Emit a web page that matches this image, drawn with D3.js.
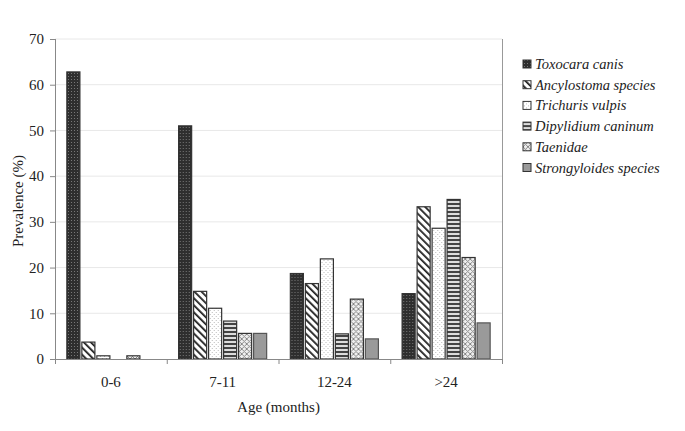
<!DOCTYPE html>
<html>
<head>
<meta charset="utf-8">
<script src="https://cdn.jsdelivr.net/npm/d3@7"></script>
<style>
  body { margin: 0; background: #fff; }
</style>
</head>
<body>
<div id="chart"></div>
<script>
const ageGroups = ["0-6", "7-11", "12-24", ">24"];
const species = ["Toxocara canis", "Ancylostoma species", "Trichuris vulpis",
  "Dipylidium caninum", "Taenidae", "Strongyloides species"];
// prevalence (%) per species, one value per age group
const toxocara = [62.8, 51.0, 18.7, 14.3];
const ancylostoma = [3.7, 14.8, 16.5, 33.3];
const trichuris = [0.7, 11.1, 21.9, 28.6];
const dipylidium = [0, 8.3, 5.5, 34.9];
const taenidae = [0.7, 5.6, 13.1, 22.2];
const strongyloides = [0, 5.6, 4.4, 7.9];
const yTicks = [0, 10, 20, 30, 40, 50, 60, 70];

const seriesValues = [toxocara, ancylostoma, trichuris, dipylidium, taenidae, strongyloides];
const data = ageGroups.map((g, i) => ({
  group: g,
  values: species.map((s, j) => ({ key: s, idx: j, value: seriesValues[j][i] }))
}));

const FONT = "'Liberation Serif', 'Times New Roman', 'DejaVu Serif', serif";
const W = 685, H = 431;
const margin = { top: 39, right: 183, bottom: 72, left: 55 };
const width = W - margin.left - margin.right;
const height = H - margin.top - margin.bottom;

const svg = d3.select("#chart").append("svg")
  .attr("width", W).attr("height", H)
  .style("font-family", FONT);

// patterns
const defs = svg.append("defs");
const p0 = defs.append("pattern").attr("id", "pat0").attr("patternUnits", "userSpaceOnUse")
  .attr("width", 3).attr("height", 3);
p0.append("rect").attr("width", 3).attr("height", 3).attr("fill", "#2e2e2e");
p0.append("rect").attr("x", 1).attr("y", 1).attr("width", 1).attr("height", 1).attr("fill", "#777");

const p1 = defs.append("pattern").attr("id", "pat1").attr("patternUnits", "userSpaceOnUse")
  .attr("width", 5).attr("height", 5).attr("patternTransform", "rotate(-45)");
p1.append("rect").attr("width", 5).attr("height", 5).attr("fill", "#fff");
p1.append("rect").attr("width", 1.8).attr("height", 5).attr("fill", "#222");

const p2 = defs.append("pattern").attr("id", "pat2").attr("patternUnits", "userSpaceOnUse")
  .attr("width", 4).attr("height", 4);
p2.append("rect").attr("width", 4).attr("height", 4).attr("fill", "#fff");
p2.append("rect").attr("x", 1).attr("y", 1).attr("width", 1).attr("height", 1).attr("fill", "#bbb");
p2.append("rect").attr("x", 3).attr("y", 3).attr("width", 1).attr("height", 1).attr("fill", "#bbb");

const p3 = defs.append("pattern").attr("id", "pat3").attr("patternUnits", "userSpaceOnUse")
  .attr("width", 4).attr("height", 4);
p3.append("rect").attr("width", 4).attr("height", 4).attr("fill", "#ddd");
p3.append("rect").attr("y", 0).attr("width", 4).attr("height", 2).attr("fill", "#444");

const p4 = defs.append("pattern").attr("id", "pat4").attr("patternUnits", "userSpaceOnUse")
  .attr("width", 5).attr("height", 5);
p4.append("rect").attr("width", 5).attr("height", 5).attr("fill", "#eee");
p4.append("path").attr("d", "M0,0L5,5M5,0L0,5").attr("stroke", "#888").attr("stroke-width", 1);

const fills = ["url(#pat0)", "url(#pat1)", "url(#pat2)", "url(#pat3)", "url(#pat4)", "#9a9a9a"];

const g = svg.append("g").attr("transform", `translate(${margin.left},${margin.top})`);

const x0 = d3.scaleBand().domain(ageGroups).range([0, width]).padding(0);
const x1 = d3.scaleBand().domain(species).range([0, x0.bandwidth()])
  .paddingInner(0.13).paddingOuter(0.79);
const y = d3.scaleLinear().domain([0, 70]).range([height, 0]);

// gridlines
g.append("g").selectAll("line").data(yTicks.slice(1)).enter().append("line")
  .attr("x1", 0).attr("x2", width)
  .attr("y1", d => y(d)).attr("y2", d => y(d))
  .attr("stroke", "#e8e8e8").attr("stroke-width", 1);

// right border of plot area
g.append("line").attr("x1", width + 0.5).attr("x2", width + 0.5)
  .attr("y1", 0).attr("y2", height).attr("stroke", "#999");

// bars
const groups = g.selectAll(".grp").data(data).enter().append("g")
  .attr("class", "grp")
  .attr("transform", d => `translate(${x0(d.group)},0)`);
groups.selectAll("rect").data(d => d.values.filter(v => v.value > 0)).enter().append("rect")
  .attr("x", d => x1(d.key))
  .attr("y", d => y(d.value))
  .attr("width", x1.bandwidth())
  .attr("height", d => height - y(d.value))
  .attr("fill", d => fills[d.idx])
  .attr("stroke", d => d.idx === 5 ? "#555" : "#333")
  .attr("stroke-width", 1.2);

// y axis
const yAxis = g.append("g")
  .call(d3.axisLeft(y).tickValues(yTicks).tickSize(5).tickPadding(6))
  .attr("font-family", FONT);
yAxis.selectAll("text").style("font-size", "15px").style("font-family", FONT).attr("fill", "#222");
yAxis.selectAll("line, path").attr("stroke", "#888");
yAxis.select(".domain").attr("d", `M0.5,0V${height}`);

// x axis with ticks at group boundaries
const xAxis = g.append("g").attr("transform", `translate(0,${height})`);
xAxis.append("line").attr("x1", 0).attr("x2", width).attr("y1", 0.5).attr("y2", 0.5)
  .attr("stroke", "#888");
const boundaries = ageGroups.map(d => x0(d)).concat([width]);
xAxis.selectAll(".btick").data(boundaries).enter().append("line")
  .attr("x1", d => d + 0.5).attr("x2", d => d + 0.5)
  .attr("y1", 0).attr("y2", 5).attr("stroke", "#888");
xAxis.selectAll(".lbl").data(ageGroups).enter().append("text")
  .attr("x", d => x0(d) + x0.bandwidth() / 2)
  .attr("y", 28)
  .attr("text-anchor", "middle")
  .style("font-size", "15px").style("font-family", FONT).attr("fill", "#222")
  .text(d => d);

// axis titles
svg.append("text")
  .attr("x", margin.left + width / 2).attr("y", 412)
  .attr("text-anchor", "middle").style("font-size", "15px").style("font-family", FONT)
  .attr("fill", "#222")
  .text("Age (months)");
svg.append("text")
  .attr("transform", `translate(23,${margin.top + height / 2 + 2}) rotate(-90)`)
  .attr("text-anchor", "middle").style("font-size", "15px").style("font-family", FONT)
  .attr("fill", "#222")
  .text("Prevalence (%)");

// legend
const legend = svg.append("g").attr("transform", "translate(523,59)");
const items = legend.selectAll(".item").data(species).enter().append("g")
  .attr("transform", (d, i) => `translate(0,${i * 20.7})`);
items.append("rect").attr("width", 8).attr("height", 8).attr("y", 1)
  .attr("fill", (d, i) => fills[i]).attr("stroke", "#333").attr("stroke-width", 1);
items.append("text").attr("x", 12).attr("y", 10)
  .style("font-size", "14.5px").style("font-style", "italic").style("font-family", FONT)
  .attr("fill", "#222")
  .text(d => d);
</script>
</body>
</html>
